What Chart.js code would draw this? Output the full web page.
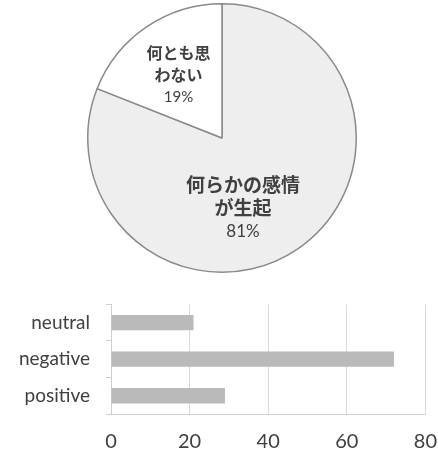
<!DOCTYPE html>
<html>
<head>
<meta charset="utf-8">
<script src="https://cdn.jsdelivr.net/npm/chart.js@4"></script>
<style>
  body { margin: 0; background: #fff; overflow: hidden; }
  #wrap { position: relative; width: 438px; height: 453px; overflow: hidden; }
  #pieBox { position: absolute; left: 0; top: 0; width: 438px; height: 280px; }
  #barBox { position: absolute; left: 0; top: 277px; width: 453px; height: 176px; }
</style>
</head>
<body>
<div id="wrap">
  <div id="pieBox"><canvas id="pieChart"></canvas></div>
  <div id="barBox"><canvas id="barChart"></canvas></div>
</div>
<script>
// pie data (slice order: clockwise from 12 o'clock)
const pieLabels = ['何らかの感情\nが生起', '何とも思\nわない'];
const pieValues = [81, 19];

// bar data
const barLabels = ['neutral', 'negative', 'positive'];
const barValues = [21, 72, 29];
const xTicks = [0, 20, 40, 60, 80];

// label placement for each slice: block center offset from pie center (px), font sizes
const pieLabelStyle = [
    { dx: 21, dy: 70, size: 19, pctSize: 17, lineH: 23.5 },
    { dx: -43.5, dy: -63, size: 16, pctSize: 15, lineH: 22 }
];

const pieText = {
    id: 'pieText',
    afterDatasetsDraw(chart) {
        const ctx = chart.ctx;
        const arc = chart.getDatasetMeta(0).data[0];
        const total = pieValues.reduce((a, b) => a + b, 0);
        ctx.save();
        ctx.fillStyle = '#404040';
        ctx.textAlign = 'center';
        ctx.textBaseline = 'middle';
        pieLabels.forEach((lab, i) => {
            const s = pieLabelStyle[i];
            const lines = lab.split('\n');
            const pct = Math.round(pieValues[i] / total * 100) + '%';
            const n = lines.length + 1;
            const y0 = arc.y + s.dy - (n - 1) * s.lineH / 2;
            ctx.font = 'bold ' + s.size + 'px "Noto Sans CJK JP"';
            lines.forEach((t, k) => ctx.fillText(t, arc.x + s.dx, y0 + k * s.lineH));
            ctx.font = s.pctSize + 'px Lato';
            ctx.fillText(pct, arc.x + s.dx, y0 + lines.length * s.lineH);
        });
        ctx.restore();
    }
};

new Chart(document.getElementById('pieChart'), {
    type: 'pie',
    data: {
        labels: pieLabels,
        datasets: [{
            data: pieValues,
            backgroundColor: ['#eeeeee', '#ffffff'],
            borderColor: '#8a8a8a',
            borderWidth: 1.5
        }]
    },
    options: {
        responsive: true,
        maintainAspectRatio: false,
        animation: false,
        layout: { padding: { left: 87, right: 81, top: 3, bottom: 7 } },
        plugins: { legend: { display: false }, tooltip: { enabled: false } }
    },
    plugins: [pieText]
});

new Chart(document.getElementById('barChart'), {
    type: 'bar',
    data: {
        labels: barLabels,
        datasets: [{
            data: barValues,
            backgroundColor: '#bababa',
            barPercentage: 0.42,
            categoryPercentage: 1
        }]
    },
    options: {
        indexAxis: 'y',
        responsive: true,
        maintainAspectRatio: false,
        animation: false,
        layout: { padding: { left: 0, right: 0, top: 2, bottom: 0 } },
        plugins: { legend: { display: false }, tooltip: { enabled: false } },
        scales: {
            x: {
                min: 0,
                max: 80,
                afterBuildTicks(scale) { scale.ticks = xTicks.map(v => ({ value: v })); },
                afterFit(scale) { scale.height = 39; },
                grid: { color: '#d9d9d9', drawTicks: false },
                border: { color: '#d0d0d0' },
                ticks: {
                    padding: 16,
                    color: '#404040',
                    font: { family: 'Lato', size: 20 }
                }
            },
            y: {
                afterFit(scale) { scale.width = 111; },
                grid: { drawOnChartArea: false, tickLength: 5, color: '#cfcfcf' },
                border: { color: '#cfcfcf' },
                ticks: {
                    padding: 16,
                    color: '#404040',
                    font: { family: 'Lato', size: 19 }
                }
            }
        }
    }
});
</script>
</body>
</html>
